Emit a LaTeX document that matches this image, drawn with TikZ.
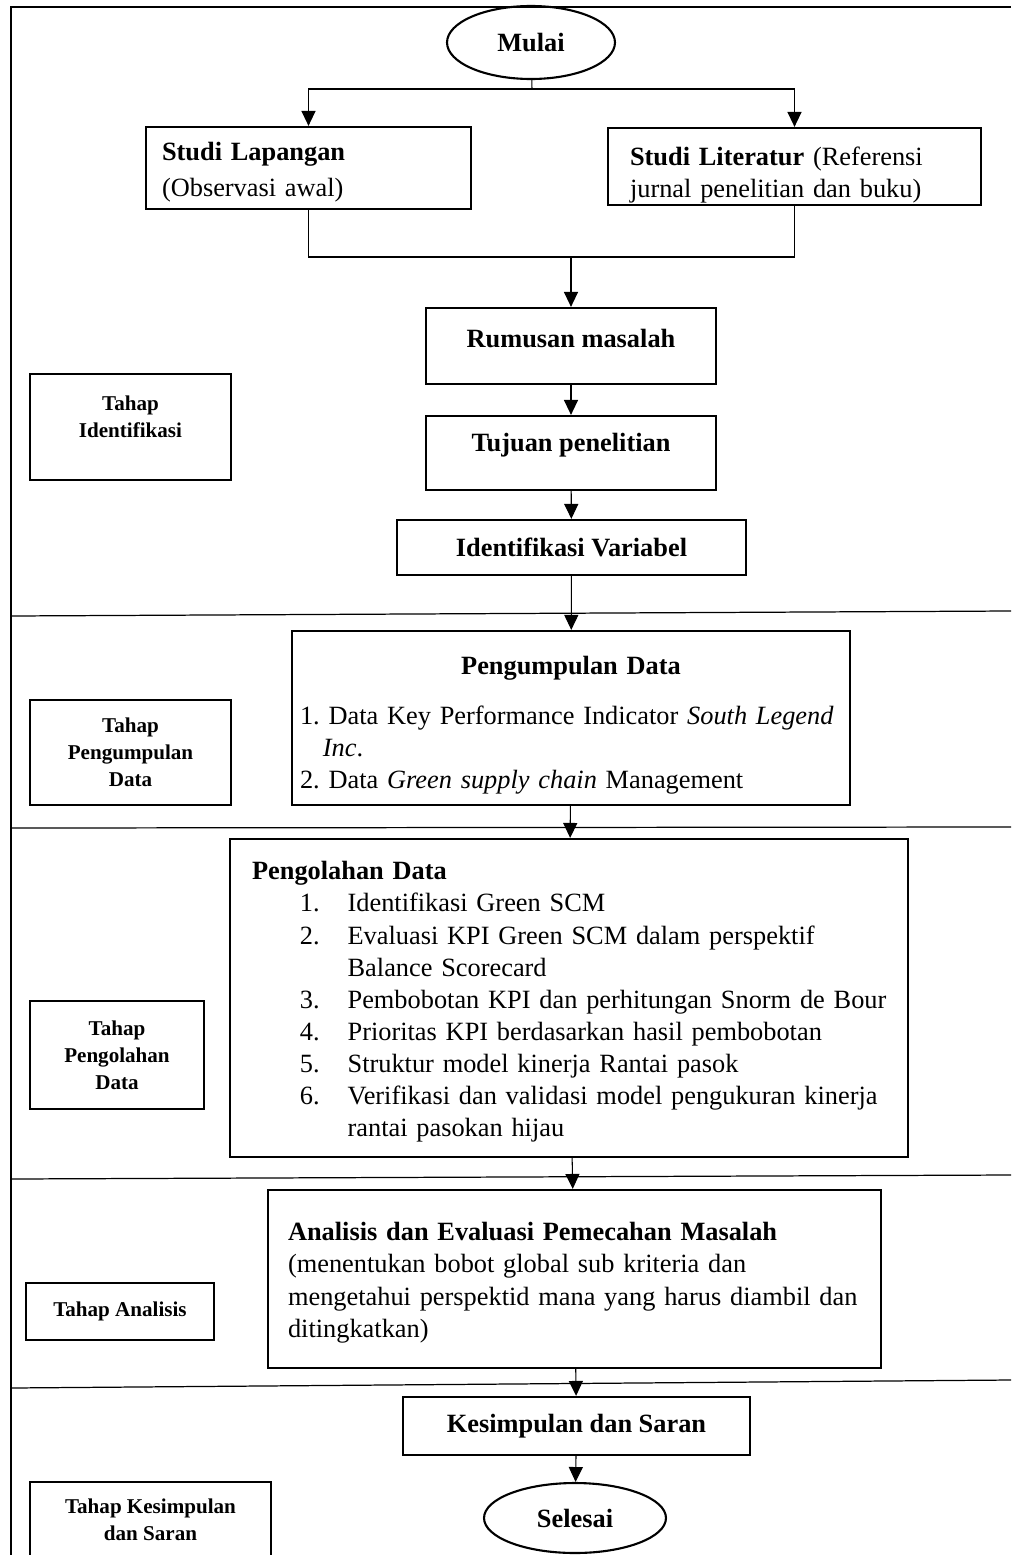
\documentclass[tikz,border=0pt]{standalone}
\usepackage{fontspec}
\setmainfont{Liberation Serif}
\usetikzlibrary{shapes.geometric,arrows.meta}
\newcommand{\numitem}[2]{\mbox{\hspace*{27.2pt}\makebox[27.2pt][l]{#1}#2}}
\newcommand{\numcont}[1]{\mbox{\hspace*{54.4pt}#1}}

\begin{document}
\begin{tikzpicture}[x=0.02cm,y=-0.02cm,
    box/.style={draw,line width=1.3pt,font=\fontsize{15}{18.3}\selectfont,inner sep=0pt},
    endpt/.style={draw,ellipse,line width=1.2pt,font=\fontsize{15}{18.3}\selectfont\bfseries,inner sep=0pt},
    stage/.style={draw,line width=1.3pt,align=center,font=\fontsize{12}{15.3}\selectfont\bfseries,inner sep=0pt},
    arr/.style={line width=0.6pt,-{Triangle[length=8.5pt,width=8pt]}},
    link/.style={line width=0.6pt},
    sep/.style={line width=0.7pt}]
  \useasboundingbox (0,0) rectangle (1011,1555);
  \clip (0,0) rectangle (1011,1555);

  % frame and stage separators
  \draw [line width=1.2pt] (11,1555) -- (11,7) -- (1011,7);
  \draw [sep] (11,616) -- (1011,611);
  \draw [sep] (11,828) -- (1011,827);
  \draw [sep] (11,1179) -- (1011,1175);
  \draw [sep] (11,1388) -- (1011,1380);

  \node [endpt,minimum width=3.36cm,minimum height=1.46cm] (mulai) at (531,42.5) {Mulai};
  \node [box,align=left,text width=5.86cm,inner xsep=0.32cm,minimum height=1.64cm,text depth=19pt] (lapangan)
    at (308.5,168) {\textbf{Studi Lapangan}\\[2pt](Observasi awal)};
  \node [box,align=left,text width=6.58cm,inner xsep=0.44cm,minimum height=1.54cm,text depth=12pt] (literatur)
    at (794.5,166.5) {\textbf{Studi Literatur} (Referensi\\jurnal penelitian dan buku)};
  \coordinate (split) at (532,89);
  \coordinate (join) at (571,257);

  \node [box,minimum width=5.8cm,minimum height=1.52cm,text depth=9pt] (rumusan) at (571,346) {\textbf{Rumusan masalah}};
  \node [box,minimum width=5.8cm,minimum height=1.48cm,text depth=12pt] (tujuan) at (571,453) {\textbf{Tujuan penelitian}};
  \node [box,minimum width=6.98cm,minimum height=1.1cm] (idvar) at (571.5,547.5) {\textbf{Identifikasi Variabel}};
  \node [stage,minimum width=4.02cm,minimum height=2.12cm,text depth=12pt] (tahapid) at (130.5,427) {Tahap\\Identifikasi};

  \node [box,align=left,text width=10.84cm,inner xsep=0.16cm,minimum height=3.48cm,text depth=60pt] (kumpul) at (571,718)
    {\makebox[10.84cm]{\textbf{Pengumpulan Data}}\\[10pt]
     \mbox{1.\ Data Key Performance Indicator \textit{South Legend}}\\
     \hspace*{13pt}\textit{Inc}.\\
     \mbox{2.\ Data \textit{Green supply chain} Management}};
  \node [stage,minimum width=4.02cm,minimum height=2.1cm] (tahapkumpul) at (130.5,752.5) {Tahap\\Pengumpulan\\Data};

  \node [box,align=left,text width=12.68cm,inner xsep=0.44cm,minimum height=6.36cm,text depth=145pt] (olah) at (569,998)
    {\textbf{Pengolahan Data}\\
     \numitem{1.}{Identifikasi Green SCM}\\
     \numitem{2.}{Evaluasi KPI Green SCM dalam perspektif}\\
     \numcont{Balance Scorecard}\\
     \numitem{3.}{Pembobotan KPI dan perhitungan Snorm de Bour}\\
     \numitem{4.}{Prioritas KPI berdasarkan hasil pembobotan}\\
     \numitem{5.}{Struktur model kinerja Rantai pasok}\\
     \numitem{6.}{Verifikasi dan validasi model pengukuran kinerja}\\
     \numcont{rantai pasokan hijau}};
  \node [stage,minimum width=3.48cm,minimum height=2.16cm] (tahapolah) at (117,1055) {Tahap\\Pengolahan\\Data};

  \node [box,align=left,text width=11.46cm,inner xsep=0.4cm,minimum height=3.56cm,text depth=54pt] (analisis) at (574.5,1279)
    {\mbox{\textbf{Analisis dan Evaluasi Pemecahan Masalah}}\\
     \mbox{(menentukan bobot global sub kriteria dan}\\
     \mbox{mengetahui perspektid mana yang harus diambil dan}\\
     ditingkatkan)};
  \node [stage,minimum width=3.76cm,minimum height=1.14cm] (tahapanalisis) at (120,1311.5) {Tahap Analisis};

  \node [box,minimum width=6.94cm,minimum height=1.16cm] (simpul) at (576.5,1426) {\textbf{Kesimpulan dan Saran}};
  \node [endpt,minimum width=3.64cm,minimum height=1.4cm] (selesai) at (575,1518) {Selesai};
  \node [stage,minimum width=4.82cm,minimum height=1.52cm] (tahapsimpul) at (150.5,1520) {Tahap Kesimpulan\\dan Saran};

  \draw [link] (mulai) -- (split);
  \draw [arr] (split) -| (lapangan);
  \draw [arr] (split) -| (literatur);
  \draw [link] (lapangan) |- (join);
  \draw [link] (literatur) |- (join);
  \draw [arr] (join) -- (rumusan);
  \draw [arr] (rumusan) -- (tujuan);
  \draw [arr] (tujuan) -- (idvar);
  \draw [arr] (idvar) -- (kumpul);
  \draw [arr] (kumpul) -- (olah);
  \draw [arr] (olah) -- (analisis);
  \draw [arr] (analisis) -- (simpul);
  \draw [arr] (simpul) -- (selesai);
\end{tikzpicture}
\end{document}
